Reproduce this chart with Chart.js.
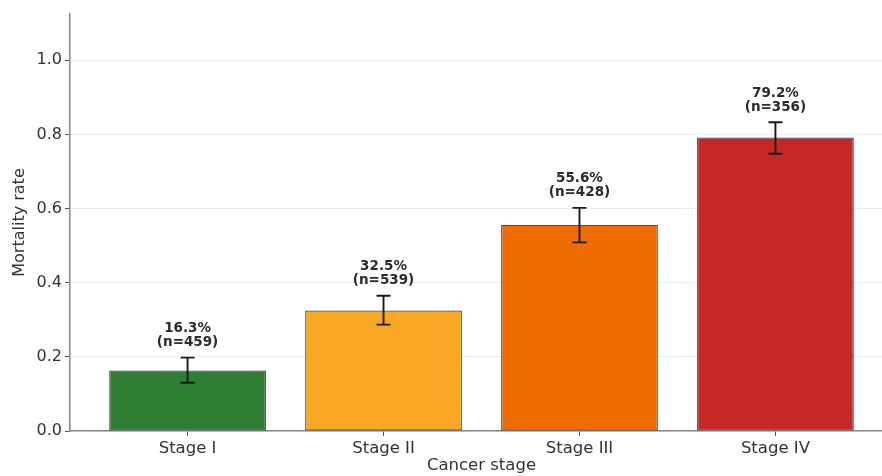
<!DOCTYPE html>
<html>
<head>
<meta charset="utf-8">
<script src="https://cdn.jsdelivr.net/npm/chart.js@4.4.0/dist/chart.umd.min.js"></script>
<style>
  html, body { margin: 0; padding: 0; background: #fff; overflow: hidden; }
  #wrap { position: relative; width: 910px; height: 476px; }
</style>
</head>
<body>
<div id="wrap"><canvas id="myChart"></canvas></div>
<script>
const stages = ["Stage I", "Stage II", "Stage III", "Stage IV"];
const rates = [0.163, 0.325, 0.556, 0.792];
const counts = [459, 539, 428, 356];
const ciLow = [0.130, 0.287, 0.509, 0.748];
const ciHigh = [0.198, 0.365, 0.602, 0.833];
const barColors = ["#2e7d32", "#f9a825", "#ef6c00", "#c62828"];
const yTicks = [0, 0.2, 0.4, 0.6, 0.8, 1.0];

const FONT = "DejaVu Sans";

// error bars and the two-line labels above them
const errorBars = {
  id: "errorBars",
  afterDatasetsDraw(chart) {
    const ctx = chart.ctx;
    const y = chart.scales.y;
    const bars = chart.getDatasetMeta(0).data;
    ctx.save();
    bars.forEach((bar, i) => {
      const x = bar.x;
      const top = y.getPixelForValue(ciHigh[i]);
      const bottom = y.getPixelForValue(ciLow[i]);
      ctx.strokeStyle = "#1a1a1a";
      ctx.lineWidth = 1.9;
      ctx.beginPath();
      ctx.moveTo(x, top); ctx.lineTo(x, bottom);
      ctx.moveTo(x - 7, top); ctx.lineTo(x + 7, top);
      ctx.moveTo(x - 7, bottom); ctx.lineTo(x + 7, bottom);
      ctx.stroke();

      ctx.fillStyle = "#2b2b2b";
      ctx.font = "bold 13.5px '" + FONT + "'";
      ctx.textAlign = "center";
      ctx.textBaseline = "middle";
      ctx.fillText((rates[i] * 100).toFixed(1) + "%", x, top - 29);
      ctx.fillText("(n=" + counts[i] + ")", x, top - 15);
    });
    ctx.restore();
  }
};

const ctx = document.getElementById("myChart").getContext("2d");
new Chart(ctx, {
  type: "bar",
  data: {
    datasets: [{
      data: rates.map((v, i) => ({ x: i, y: v })),
      backgroundColor: barColors,
      borderColor: "rgba(30,30,30,0.8)",
      borderWidth: 1.2,
      borderSkipped: false,
      barPercentage: 0.8,
      categoryPercentage: 1.0
    }]
  },
  options: {
    responsive: true,
    maintainAspectRatio: false,
    animation: false,
    layout: { padding: { top: 14, right: 17, bottom: 0, left: 0 } },
    plugins: {
      legend: { display: false },
      tooltip: { enabled: false }
    },
    scales: {
      x: {
        type: "linear",
        min: -0.6,
        max: 3.6,
        offset: false,
        afterBuildTicks: s => { s.ticks = stages.map((_, i) => ({ value: i })); },
        afterFit: s => { s.height = 45; },
        ticks: {
          callback: v => stages[v],
          color: "#333",
          font: { size: 16.5, family: FONT },
          padding: 3,
          maxRotation: 0,
          autoSkip: false
        },
        grid: { offset: false, drawOnChartArea: false, tickLength: 5, tickColor: "#555", tickWidth: 1 },
        border: { color: "#888", width: 1.5 },
        title: {
          display: true,
          text: "Cancer stage",
          color: "#333",
          font: { size: 16.5, family: FONT },
          padding: 0
        }
      },
      y: {
        min: 0,
        max: 1.125,
        afterBuildTicks: s => { s.ticks = yTicks.map(v => ({ value: v })); },
        afterFit: s => { s.width = 70; },
        ticks: {
          callback: v => v.toFixed(1),
          color: "#333",
          font: { size: 16, family: FONT },
          padding: 3
        },
        grid: { color: "rgba(0,0,0,0.07)", tickLength: 5, tickColor: "#555", tickWidth: 1 },
        border: { color: "#888", width: 1.5 },
        title: {
          display: true,
          text: "Mortality rate",
          color: "#333",
          font: { size: 16, family: FONT },
          padding: { top: 10, bottom: 0 }
        }
      }
    }
  },
  plugins: [errorBars]
});
</script>
</body>
</html>
